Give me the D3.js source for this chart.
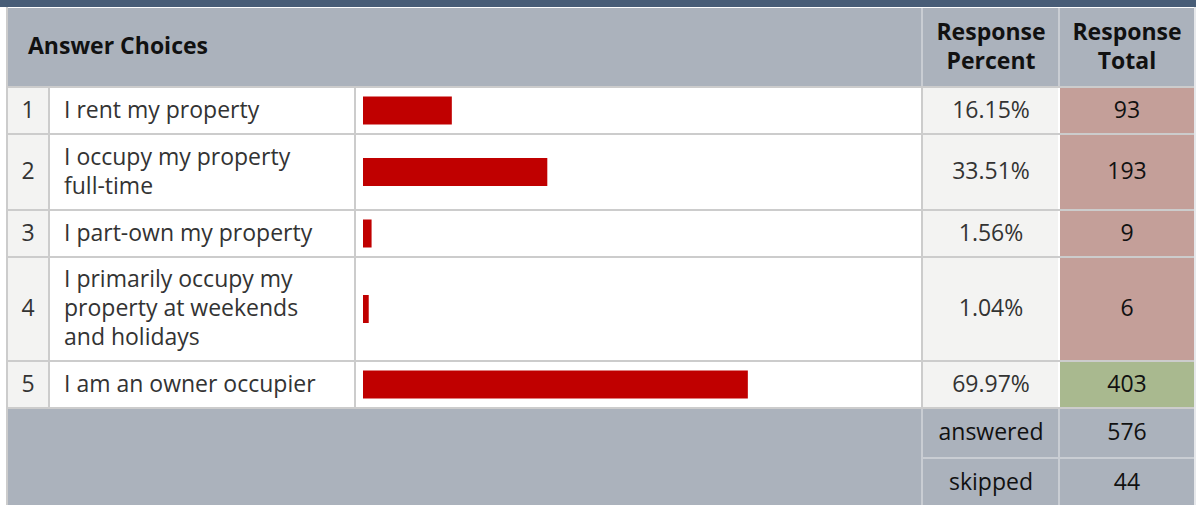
<!DOCTYPE html>
<html><head><meta charset="utf-8">
<script src="https://cdn.jsdelivr.net/npm/d3@7"></script>
<style>html,body{margin:0;padding:0;background:#fff;overflow:hidden}svg{display:block}</style>
</head><body><div id="chart"></div>
<script>
const choiceNumbers = ["1","2","3","4","5"];
const choiceLabels = [
  ["I rent my property"],
  ["I occupy my property","full-time"],
  ["I part-own my property"],
  ["I primarily occupy my","property at weekends","and holidays"],
  ["I am an owner occupier"]
];
const responsePercent = [16.15, 33.51, 1.56, 1.04, 69.97];
const responseTotal = [93, 193, 9, 6, 403];
const headerLabels = ["Answer Choices", ["Response","Percent"], ["Response","Total"]];
const summaryLabels = ["answered","skipped"];
const summaryValues = [576, 44];

const W = 1196, H = 505;
const FONT = "'Open Sans', Lato, sans-serif";
const svg = d3.select("#chart").append("svg").attr("width", W).attr("height", H);

// measure font so body text matches reference widths
const probe = svg.append("text").attr("font-family", FONT).attr("font-size", 20).text("I rent my property");
const wProbe = probe.node().getComputedTextLength();
probe.remove();
const FS = Math.max(17, Math.min(23, 20 * 196 / wProbe));
const probeB = svg.append("text").attr("font-family", FONT).attr("font-weight", 700).attr("font-size", 20).text("Answer Choices");
const wProbeB = probeB.node().getComputedTextLength();
probeB.remove();
const FSB = Math.max(17, Math.min(23, 20 * 184 / wProbeB));

// column edges
const colX = {left: 8, num: 48, label: 354, bar: 921, pct: 1059, right: 1195};
const barStart = 363;
const x = d3.scaleLinear().domain([0, 100]).range([barStart, barStart + 550]);

const border = "#cccccc";
const headerBg = "#abb2bc";

svg.append("rect").attr("x", 0).attr("y", 0).attr("width", W).attr("height", 7).attr("fill", "#485d77");
svg.append("rect").attr("x", 6).attr("y", 7).attr("width", 2).attr("height", H - 7).attr("fill", border);
svg.append("rect").attr("x", 1194).attr("y", 7).attr("width", 2).attr("height", H - 7).attr("fill", "#e6e8eb");

// header
const headerTop = 8, headerBottom = 86;
svg.append("rect").attr("x", 8).attr("y", headerTop).attr("width", 1186).attr("height", headerBottom - headerTop).attr("fill", headerBg);
[colX.bar, colX.pct - 1].forEach(cx => {
  svg.append("rect").attr("x", cx).attr("y", headerTop).attr("width", 2).attr("height", headerBottom - headerTop).attr("fill", "#c9cdd3");
});
svg.append("text").attr("x", 28).attr("y", 48).attr("dominant-baseline", "middle")
  .attr("font-family", FONT).attr("font-weight", 700).attr("font-size", FSB).attr("fill", "#111")
  .text(headerLabels[0]);
[[headerLabels[1], (colX.bar + colX.pct) / 2 + 1], [headerLabels[2], (colX.pct + colX.right) / 2]].forEach(([lines, cx]) => {
  const t = svg.append("text").attr("text-anchor", "middle").attr("font-family", FONT)
    .attr("font-weight", 700).attr("font-size", FSB).attr("fill", "#111");
  lines.forEach((l, i) => t.append("tspan").attr("x", cx).attr("y", 34 + i * 29).attr("dominant-baseline", "middle").text(l));
});

// rows
const rows = choiceNumbers.map((n, i) => ({
  n, lines: choiceLabels[i], pct: responsePercent[i], total: responseTotal[i]
}));
let y = headerBottom + 2;
const lineH = 29;
rows.forEach(r => { r.y0 = y; r.h = Math.round(16.5 + 28.6 * r.lines.length); y += r.h + 2; });
const maxTotal = d3.max(responseTotal);

svg.append("rect").attr("x", 8).attr("y", headerBottom).attr("width", 1186).attr("height", 2).attr("fill", border);
const g = svg.selectAll("g.row").data(rows).join("g").attr("class", "row");
g.append("rect").attr("x", 8).attr("y", d => d.y0).attr("width", colX.num - 8).attr("height", d => d.h).attr("fill", "#f3f3f2");
g.append("rect").attr("x", colX.num + 2).attr("y", d => d.y0).attr("width", colX.bar - colX.num - 2).attr("height", d => d.h).attr("fill", "#ffffff");
g.append("rect").attr("x", colX.bar + 2).attr("y", d => d.y0).attr("width", colX.pct - colX.bar - 3).attr("height", d => d.h).attr("fill", "#f3f3f2");
g.append("rect").attr("x", colX.pct + 1).attr("y", d => d.y0).attr("width", colX.right - colX.pct - 2).attr("height", d => d.h)
  .attr("fill", d => d.total === maxTotal ? "#a9b98f" : "#c49f99");
[colX.num, colX.label, colX.bar].forEach(cx => {
  g.append("rect").attr("x", cx).attr("y", d => d.y0).attr("width", 2).attr("height", d => d.h).attr("fill", border);
});
g.append("rect").attr("x", 8).attr("y", d => d.y0 + d.h).attr("width", 1186).attr("height", 2).attr("fill", border);

// bars
g.append("rect").attr("x", x(0)).attr("y", d => d.y0 + d.h / 2 - 14).attr("height", 28)
  .attr("width", d => x(d.pct) - x(0)).attr("fill", "#c00000");

// texts
g.append("text").attr("x", 28).attr("y", d => d.y0 + d.h / 2 + 1).attr("text-anchor", "middle").attr("dominant-baseline", "middle")
  .attr("font-family", FONT).attr("font-size", FS).attr("fill", "#333").text(d => d.n);
g.each(function(d) {
  const t = d3.select(this).append("text").attr("font-family", FONT).attr("font-size", FS).attr("fill", "#333");
  const cy = d.y0 + d.h / 2 + 1 - (d.lines.length - 1) * lineH / 2;
  d.lines.forEach((l, i) => t.append("tspan").attr("x", 64).attr("y", cy + i * lineH).attr("dominant-baseline", "middle").text(l));
});
g.append("text").attr("x", (colX.bar + colX.pct) / 2 + 1).attr("y", d => d.y0 + d.h / 2 + 1).attr("text-anchor", "middle").attr("dominant-baseline", "middle")
  .attr("font-family", FONT).attr("font-size", FS).attr("fill", "#333").text(d => d.pct.toFixed(2) + "%");
g.append("text").attr("x", (colX.pct + colX.right) / 2).attr("y", d => d.y0 + d.h / 2 + 1).attr("text-anchor", "middle").attr("dominant-baseline", "middle")
  .attr("font-family", FONT).attr("font-size", FS).attr("fill", "#111").text(d => d.total);

// footer
const footTop = y;
svg.append("rect").attr("x", 8).attr("y", footTop).attr("width", 1186).attr("height", H - footTop).attr("fill", headerBg);
const footRowH = 48;
[colX.bar, colX.pct - 1].forEach(cx => {
  svg.append("rect").attr("x", cx).attr("y", footTop).attr("width", 2).attr("height", H - footTop).attr("fill", "#c9cdd3");
});
svg.append("rect").attr("x", colX.bar + 2).attr("y", footTop + footRowH).attr("width", colX.right - colX.bar - 3).attr("height", 2).attr("fill", "#c9cdd3");
summaryLabels.forEach((lab, i) => {
  const cy = footTop + footRowH / 2 + i * (footRowH + 2) + 1;
  svg.append("text").attr("x", (colX.bar + colX.pct) / 2 + 1).attr("y", cy).attr("text-anchor", "middle").attr("dominant-baseline", "middle")
    .attr("font-family", FONT).attr("font-size", FS).attr("fill", "#111").text(lab);
  svg.append("text").attr("x", (colX.pct + colX.right) / 2).attr("y", cy).attr("text-anchor", "middle").attr("dominant-baseline", "middle")
    .attr("font-family", FONT).attr("font-size", FS).attr("fill", "#111").text(summaryValues[i]);
});
</script></body></html>
